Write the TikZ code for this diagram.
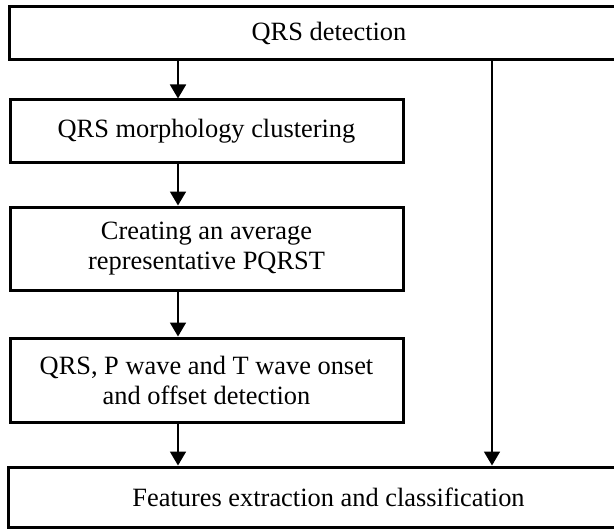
\documentclass[tikz,border=0pt]{standalone}
\usepackage{fontspec}
\setmainfont{Liberation Serif}
\usepackage{tikz}
\usetikzlibrary{positioning, calc, arrows.meta}

\begin{document}
\begin{tikzpicture}[x=0.5pt, y=0.5pt]

\tikzstyle{stage}=[rectangle, draw=black, line width=1.5pt, fill=white, align=center, inner sep=0pt, font=\fontsize{13.2}{15}\selectfont]
\tikzstyle{flow}=[line width=0.9pt, -{Triangle[width=8pt, length=7pt]}]

\useasboundingbox (0,0) rectangle (614,-529);
\clip (0,0) rectangle (614,-529);

\node (det) at (329,-33.5) [stage, minimum width=320pt, minimum height=26.5pt] {QRS detection};
\node (clu) at (206.5,-131.5) [stage, minimum width=196.5pt, minimum height=31.5pt] {QRS morphology clustering};
\node (avg) at (206.5,-248.5) [stage, minimum width=196.5pt, minimum height=41.5pt] {Creating an average\\representative PQRST};
\node (ons) at (206.5,-380) [stage, minimum width=196.5pt, minimum height=42pt] {QRS, P wave and T wave onset\\and offset detection};
\node (fea) at (328.5,-497) [stage, minimum width=320.5pt, minimum height=30pt] {Features extraction and classification};

%% columns of the connectors
\coordinate (lx) at (178,0);
\coordinate (rx) at (492,0);

\draw [flow] (det.south -| lx) -- (clu.north -| lx);
\draw [flow] (clu.south -| lx) -- (avg.north -| lx);
\draw [flow] (avg.south -| lx) -- (ons.north -| lx);
\draw [flow] (ons.south -| lx) -- (fea.north -| lx);

\draw [flow] (det.south -| rx) -- (fea.north -| rx);

\end{tikzpicture}
\end{document}
